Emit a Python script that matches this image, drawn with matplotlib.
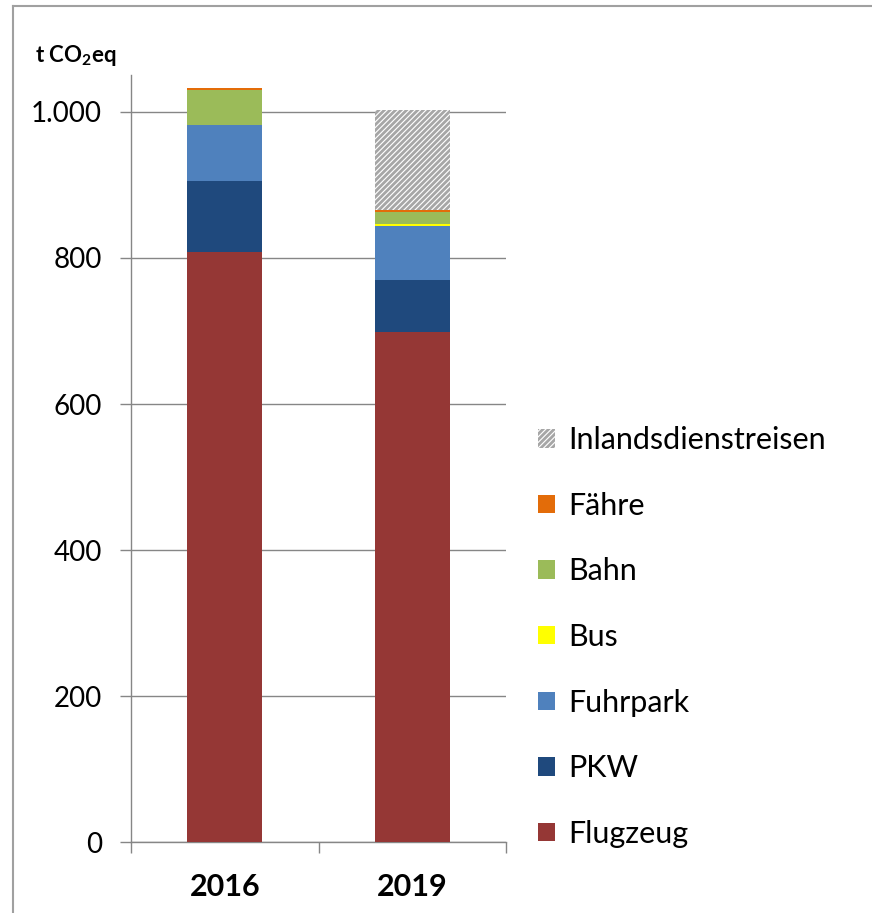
import numpy as np
import matplotlib
matplotlib.use("Agg")
import matplotlib.pyplot as plt
from matplotlib.lines import Line2D

plt.rcParams['font.family'] = ['Lato', 'DejaVu Sans']
plt.rcParams['hatch.linewidth'] = 2.0

# data (t CO2eq)
years = ['2016', '2019']
flugzeug = [808, 699]
pkw = [97, 71]
fuhrpark = [77, 74]
bus = [0, 3]
bahn = [48, 16]
faehre = [3, 3]
inlands = [0, 137]

series = [
    ('Flugzeug', flugzeug, '#953735'),
    ('PKW', pkw, '#1F497D'),
    ('Fuhrpark', fuhrpark, '#4F81BD'),
    ('Bus', bus, '#FFFF00'),
    ('Bahn', bahn, '#9BBB59'),
    ('Fähre', faehre, '#E36C09'),
]
yticks = [0, 200, 400, 600, 800, 1000]
ytick_labels = ['0', '200', '400', '600', '800', '1.000']

fig = plt.figure(figsize=(8.72, 9.13), dpi=100)
ax = fig.add_axes([131/872, 1 - 842/913, 375/872, (842 - 75.5)/913])

x = np.arange(len(years))
bottom = np.zeros(len(years))
handles = []
for name, vals, col in series:
    h = ax.bar(x, vals, 0.4, bottom=bottom, color=col, label=name, zorder=3)
    handles.append(h)
    bottom += np.array(vals)

# Inlandsdienstreisen: hatched gray/white
h = ax.bar(x, inlands, 0.4, bottom=bottom, color='white', edgecolor='#a6a6a6',
           hatch='//////', linewidth=0, label='Inlandsdienstreisen', zorder=3)
handles.append(h)

ax.set_xlim(-0.5, 1.5)
ax.set_ylim(0, 1050)
ax.set_yticks(yticks)
ax.set_yticklabels(ytick_labels, fontsize=20)
ax.set_xticks(x)
ax.set_xticklabels(years, fontsize=22, fontweight='bold')
ax.tick_params(axis='x', length=0, pad=22)
ax.set_xticks([-0.5, 0.5, 1.5], minor=True)
ax.tick_params(axis='x', which='minor', length=8, color='#868686', width=1)
ax.tick_params(axis='y', length=8, color='#868686', width=1, pad=13)

ax.grid(axis='y', color='#868686', linewidth=1, zorder=0)
ax.set_axisbelow(True)
for s in ['top', 'right']:
    ax.spines[s].set_visible(False)
for s in ['left', 'bottom']:
    ax.spines[s].set_color('#868686')
    ax.spines[s].set_linewidth(1)

fig.text(35/872, 1 - 56/913, 't CO$_\\mathregular{2}$eq', fontsize=16, fontweight='bold',
         va='center', ha='left')

ax.legend(handles[::-1], [hh.get_label() for hh in handles[::-1]],
          loc='center left', bbox_to_anchor=(538/872, 1 - 637/913),
          bbox_transform=fig.transFigure, frameon=False, fontsize=22,
          handlelength=0.55, handleheight=0.55, handletextpad=0.45,
          labelspacing=1.23, borderpad=0, borderaxespad=0)

# outer frame
fig.add_artist(Line2D([13/872, 1], [1 - 6/913, 1 - 6/913], color='#a0a0a0', lw=1.5,
                      transform=fig.transFigure))
fig.add_artist(Line2D([13/872, 13/872], [0, 1 - 6/913], color='#a0a0a0', lw=1.5,
                      transform=fig.transFigure))

fig.savefig('out.png', dpi=100)
